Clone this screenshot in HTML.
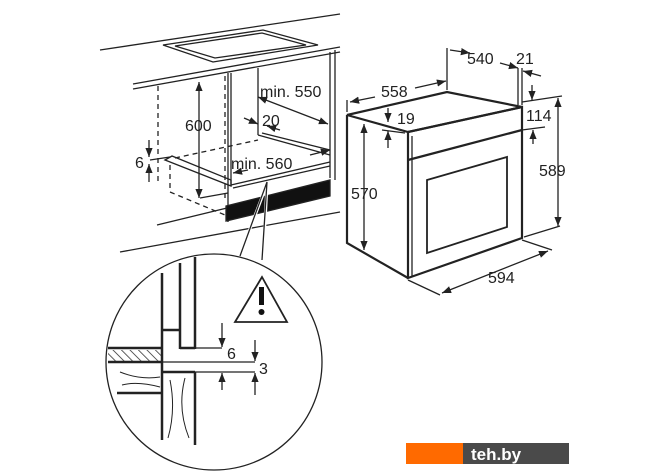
<!DOCTYPE html>
<html><head><meta charset="utf-8"><style>
html,body{margin:0;padding:0;background:#fff;width:670px;height:471px;overflow:hidden}
text{font-family:"Liberation Sans",sans-serif;font-size:16px;fill:#222}
</style></head><body>
<svg width="670" height="471" viewBox="0 0 670 471" xmlns="http://www.w3.org/2000/svg">
<defs>
<marker id="a" viewBox="0 0 10 10" refX="10" refY="5" markerWidth="7" markerHeight="7" orient="auto-start-reverse"><path d="M0,1 L10,5 L0,9 z" fill="#222"/></marker>
<pattern id="h" width="6" height="6" patternUnits="userSpaceOnUse" patternTransform="rotate(-45)"><line x1="0" y1="0" x2="0" y2="6" stroke="#222" stroke-width="1.5"/></pattern>
</defs>
<g stroke="#222" fill="none" stroke-width="1.3">
<line x1="100" y1="50" x2="340" y2="14"/>
<line x1="133" y1="84" x2="340" y2="47"/>
<line x1="133" y1="89" x2="340" y2="52"/>
<polygon points="163,45 263,30 318,45 213,62"/>
<polygon points="175,46 262,33 306,45 215,58"/>
<line x1="158" y1="86" x2="158" y2="183" stroke-dasharray="5,4"/>
<line x1="225" y1="76" x2="225" y2="200" stroke-dasharray="5,4"/>
<line x1="170" y1="165" x2="170" y2="192" stroke-dasharray="5,4"/>
<line x1="170" y1="192" x2="225" y2="215" stroke-dasharray="5,4"/>
<line x1="175" y1="158" x2="258" y2="140" stroke-dasharray="5,4"/>
<line x1="228" y1="73" x2="228" y2="222"/>
<line x1="231" y1="73" x2="231" y2="186"/>
<line x1="258" y1="68" x2="258" y2="135"/>
<line x1="330" y1="52" x2="330" y2="178"/>
<line x1="335" y1="50" x2="335" y2="180"/>
<line x1="258" y1="135" x2="330" y2="155"/>
<line x1="262" y1="133" x2="330" y2="150"/>
<line x1="200" y1="198" x2="228" y2="193"/>
<line x1="231" y1="185" x2="330" y2="162"/>
<line x1="233" y1="188" x2="330" y2="166"/>
<polygon points="165,160 172,156 231,180 231,186"/>
<line x1="150" y1="160" x2="170" y2="157"/>
<polygon points="226,206 330,180 330,196 226,221" fill="#111"/>
<line x1="157" y1="225" x2="227" y2="208"/>
<line x1="120" y1="252" x2="340" y2="212"/>
<line x1="199" y1="82" x2="199" y2="198" marker-start="url(#a)" marker-end="url(#a)"/>
<line x1="258" y1="97" x2="328" y2="124" marker-start="url(#a)" marker-end="url(#a)"/>
<line x1="244" y1="118" x2="258" y2="124" marker-end="url(#a)"/>
<line x1="280" y1="130" x2="267" y2="126" marker-end="url(#a)"/>
<line x1="248" y1="170" x2="233" y2="173" marker-end="url(#a)"/>
<line x1="310" y1="155" x2="330" y2="150" marker-end="url(#a)"/>
<line x1="149" y1="140" x2="149" y2="157" marker-end="url(#a)"/>
<line x1="149" y1="182" x2="149" y2="164" marker-end="url(#a)"/>
<g stroke-width="2.2">
<polygon points="347,115 447,92 522,107 408,132"/>
<polygon points="408,132 522,107 522,238 408,278"/>
<polyline points="347,115 347,243 408,278"/>
<line x1="408" y1="160" x2="522" y2="130"/>
</g>
<line x1="412" y1="136" x2="412" y2="276"/>
<polygon points="427,180 507,157 507,227 427,253" stroke-width="1.8"/>
<line x1="347" y1="112" x2="347" y2="100"/>
<line x1="447" y1="90" x2="447" y2="48"/>
<line x1="518" y1="105" x2="518" y2="68"/>
<line x1="522" y1="105" x2="522" y2="68"/>
<line x1="350" y1="102" x2="375" y2="97" marker-start="url(#a)"/>
<line x1="415" y1="88" x2="446" y2="81" marker-end="url(#a)"/>
<line x1="470" y1="53" x2="450" y2="50" marker-start="url(#a)"/>
<line x1="500" y1="63" x2="518" y2="68" marker-end="url(#a)"/>
<line x1="541" y1="76" x2="523" y2="71" marker-end="url(#a)"/>
<line x1="388" y1="108" x2="388" y2="122" marker-end="url(#a)"/>
<line x1="388" y1="148" x2="388" y2="131" marker-end="url(#a)"/>
<line x1="382" y1="130" x2="405" y2="133"/>
<line x1="522" y1="102" x2="562" y2="96"/>
<line x1="522" y1="130" x2="545" y2="127"/>
<line x1="532" y1="85" x2="532" y2="100" marker-end="url(#a)"/>
<line x1="533" y1="144" x2="533" y2="130" marker-end="url(#a)"/>
<line x1="558" y1="98" x2="558" y2="226" marker-start="url(#a)" marker-end="url(#a)"/>
<line x1="524" y1="237" x2="560" y2="226"/>
<line x1="364" y1="124" x2="364" y2="250" marker-start="url(#a)" marker-end="url(#a)"/>
<line x1="408" y1="280" x2="440" y2="295"/>
<line x1="522" y1="240" x2="552" y2="250"/>
<line x1="442" y1="293" x2="548" y2="251" marker-start="url(#a)" marker-end="url(#a)"/>
<circle cx="214" cy="362" r="108" fill="#fff"/>
<polyline points="240,255 267,184 263,262" stroke="#fff" stroke-width="3"/>
<polyline points="240,256 267,182 262,260"/>
<polygon points="262,277 235,322 287,322" stroke-width="1.8"/>
<g stroke-width="2.5">
<line x1="162" y1="273" x2="162" y2="440"/>
<line x1="180" y1="263" x2="180" y2="349"/>
<line x1="195" y1="257" x2="195" y2="349"/>
<line x1="180" y1="348" x2="195" y2="348"/>
<line x1="162" y1="330" x2="180" y2="330"/>
<line x1="108" y1="348" x2="162" y2="348"/>
<line x1="108" y1="362" x2="162" y2="362"/>
<line x1="117" y1="393" x2="162" y2="393"/>
<line x1="163" y1="372" x2="195" y2="372"/>
<line x1="195" y1="372" x2="195" y2="445"/>
</g>
<rect x="108" y="350" width="53" height="11" fill="url(#h)" stroke="none"/>
<path d="M120,372 q20,8 40,5 M122,385 q15,-4 38,2 M170,380 q6,30 -2,58 M185,378 q-8,30 4,60" stroke-width="1"/>
<line x1="195" y1="348" x2="222" y2="348"/>
<line x1="162" y1="362" x2="255" y2="362"/>
<line x1="195" y1="372" x2="255" y2="372"/>
<line x1="222" y1="323" x2="222" y2="347" marker-end="url(#a)"/>
<line x1="222" y1="390" x2="222" y2="373" marker-end="url(#a)"/>
<line x1="255" y1="340" x2="255" y2="361" marker-end="url(#a)"/>
<line x1="255" y1="395" x2="255" y2="373" marker-end="url(#a)"/>
</g>
<rect x="259" y="287" width="5" height="18" fill="#111"/>
<circle cx="261.5" cy="312" r="3" fill="#111"/>
<text x="185" y="131">600</text>
<text x="260" y="97">min. 550</text>
<text x="262" y="126">20</text>
<text x="231" y="169">min. 560</text>
<text x="135" y="168">6</text>
<text x="381" y="97">558</text>
<text x="467" y="64">540</text>
<text x="516" y="64">21</text>
<text x="397" y="124">19</text>
<text x="526" y="121">114</text>
<text x="539" y="176">589</text>
<text x="351" y="199">570</text>
<text x="488" y="283">594</text>
<text x="227" y="359">6</text>
<text x="259" y="374">3</text>
<rect x="406" y="443" width="57" height="21" fill="#ff6a00"/>
<rect x="463" y="443" width="106" height="21" fill="#4a4a4a"/>
<text x="471" y="460" style="fill:#fff;font-size:17px;font-weight:bold">teh.by</text>
</svg>
</body></html>
